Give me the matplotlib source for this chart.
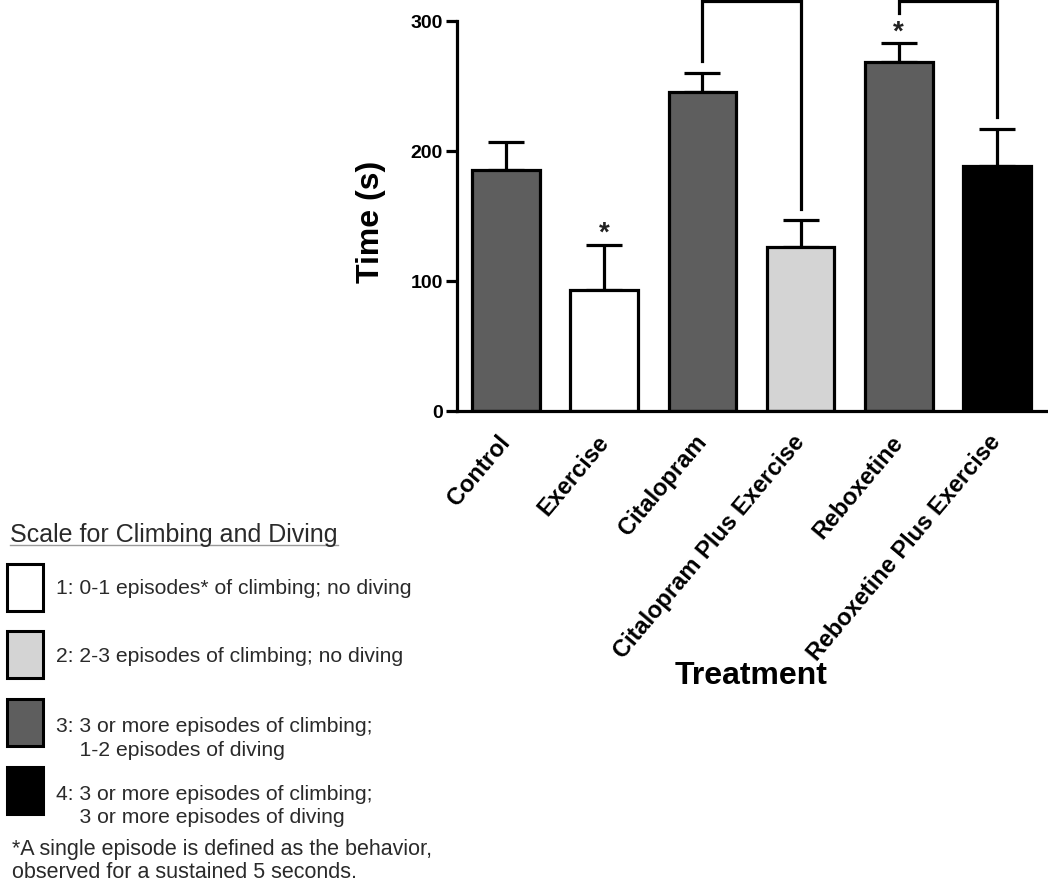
import matplotlib
matplotlib.use("Agg")
import matplotlib.pyplot as plt
from matplotlib.patches import Rectangle
from matplotlib.lines import Line2D

plt.rcParams['font.family'] = ['Liberation Sans', 'DejaVu Sans']

# ---------------- data ----------------
categories = ["Control", "Exercise", "Citalopram", "Citalopram Plus Exercise",
              "Reboxetine", "Reboxetine Plus Exercise"]
means = [185, 93, 245, 126, 268, 188]
sem_upper = [22, 35, 15, 21, 15, 29]
bar_colors = ["#5e5e5e", "#ffffff", "#5e5e5e", "#d4d4d4", "#5e5e5e", "#000000"]
yticks = [0, 100, 200, 300]

star_idx = [1, 4]
star_y = [137, 292]

# significance brackets: (left index, right index, left leg bottom, right leg bottom, top)
brackets = [(2, 3, 269, 155, 315), (4, 5, 306, 226, 315)]

legend_title = "Scale for Climbing and Diving"
legend_colors = ["#ffffff", "#d4d4d4", "#5e5e5e", "#000000"]
legend_labels = [
    ["1: 0-1 episodes* of climbing; no diving"],
    ["2: 2-3 episodes of climbing; no diving"],
    ["3: 3 or more episodes of climbing;", "    1-2 episodes of diving"],
    ["4: 3 or more episodes of climbing;", "    3 or more episodes of diving"],
]
footnote = ["*A single episode is defined as the behavior,",
            "observed for a sustained 5 seconds."]

# ---------------- figure ----------------
W, H = 1048, 887
fig = plt.figure(figsize=(W / 100, H / 100), dpi=100)

def fx(px):
    return px / W

def fy(py):
    return 1 - py / H

LW = 2.3
ax = fig.add_axes([fx(457), fy(412), (1046 - 457) / W, 411 / H])
x = list(range(len(categories)))

ax.errorbar(x, means, yerr=[[0] * len(means), sem_upper], fmt='none',
            ecolor='black', elinewidth=LW, capsize=13, capthick=LW, zorder=1)
ax.bar(x, means, width=0.69, color=bar_colors, edgecolor='black',
       linewidth=LW, zorder=2)

for i, yv in zip(star_idx, star_y):
    ax.text(i, yv, "*", ha='center', va='center', fontsize=20,
            fontweight='bold', color='#222222')

for (a, b, la, lb, top) in brackets:
    ax.add_line(Line2D([a, a, b, b], [la, top, top, lb], color='black',
                       linewidth=LW, clip_on=False, solid_joinstyle='miter'))

ax.set_xlim(-0.5, 5.5)
ax.set_ylim(0, 316)
ax.spines['top'].set_visible(False)
ax.spines['right'].set_visible(False)
ax.spines['left'].set_bounds(0, 300)
ax.spines['left'].set_linewidth(LW)
ax.spines['bottom'].set_linewidth(LW)

ax.set_yticks(yticks)
ax.set_yticklabels([str(t) for t in yticks], fontsize=14, fontweight='bold')
ax.tick_params(axis='y', length=8, width=LW, pad=2)
ax.set_xticks(x)
ax.set_xticklabels(categories, rotation=50, ha='right', va='center',
                   rotation_mode='anchor', fontsize=17, fontweight='bold')
ax.tick_params(axis='x', length=0, pad=19)

ax.set_ylabel("Time (s)", fontsize=23, fontweight='bold')
ax.yaxis.set_label_coords((386 - 457) / 589, (412 - 222) / 411)

fig.text(fx(751), fy(676), "Treatment", ha='center', va='center',
         fontsize=23, fontweight='bold')

# ---------------- legend block ----------------
txt_color = '#2a2a2a'
fig.text(fx(10), fy(535), legend_title, ha='left', va='center', fontsize=18,
         color=txt_color)
fig.add_artist(Line2D([fx(10), fx(338)], [fy(546), fy(546)],
                      transform=fig.transFigure, color='#9a9a9a', linewidth=1))

box_tops = [565, 632, 700, 768]
text_y = [[589], [656], [727, 750], [795, 818]]
for col, top, labs, ys in zip(legend_colors, box_tops, legend_labels, text_y):
    fig.add_artist(Rectangle((fx(7), fy(top + 47)), 36 / W, 47 / H,
                             transform=fig.transFigure, facecolor=col,
                             edgecolor='black', linewidth=2.2))
    for lab, yy in zip(labs, ys):
        fig.text(fx(56), fy(yy), lab, ha='left', va='center', fontsize=15.2,
                 color=txt_color)

for line, yy in zip(footnote, [850, 873]):
    fig.text(fx(12), fy(yy), line, ha='left', va='center', fontsize=15.5,
             color=txt_color)

fig.savefig("out.png", dpi=100)
